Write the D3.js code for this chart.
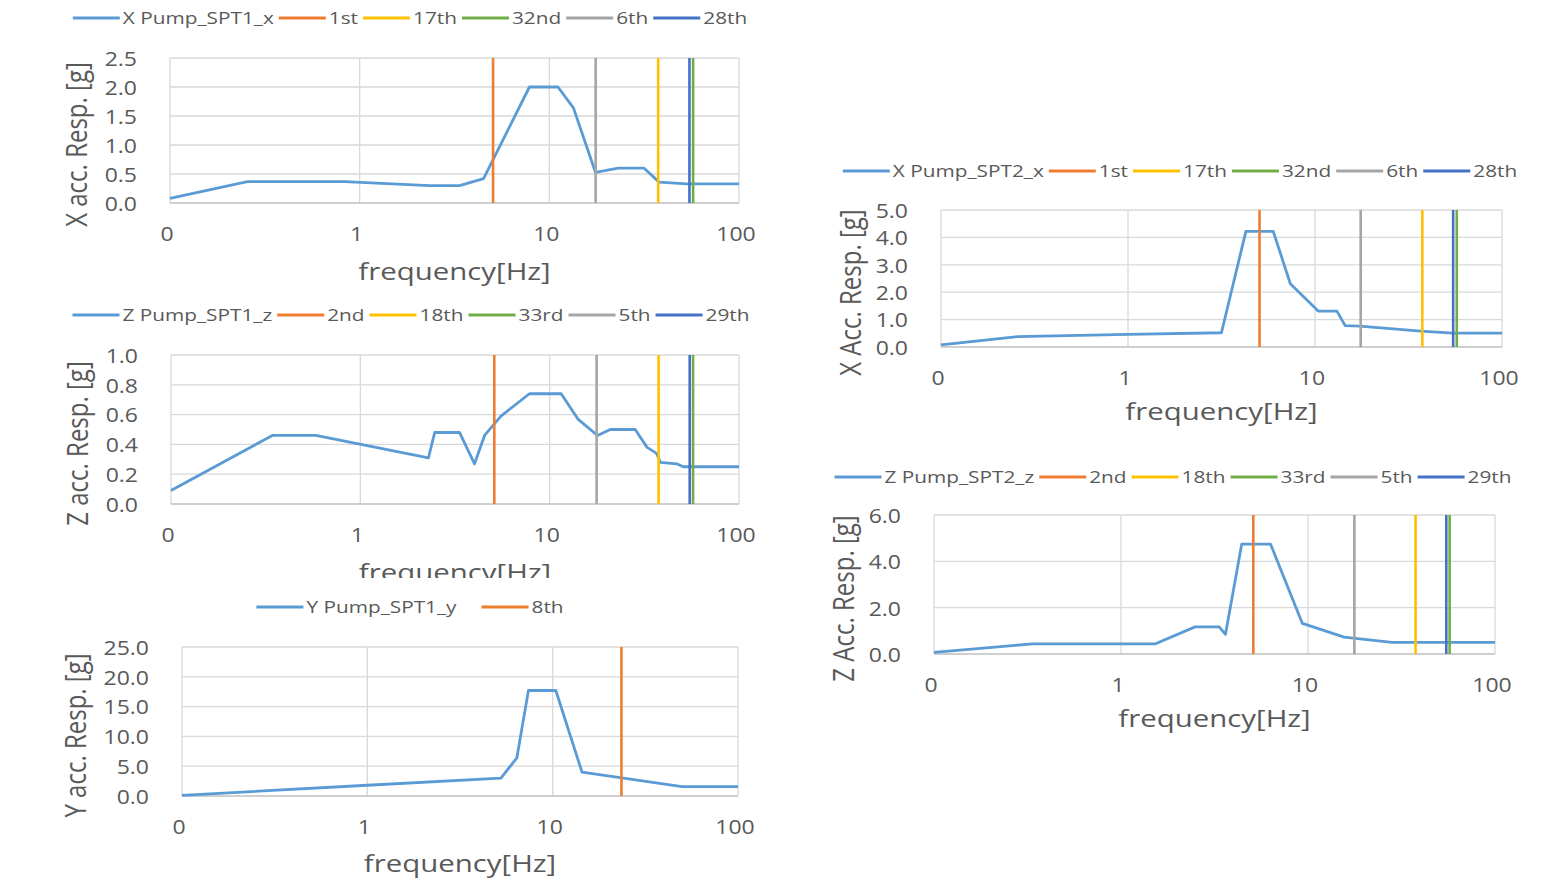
<!DOCTYPE html>
<html><head><meta charset="utf-8">
<script src="https://cdn.jsdelivr.net/npm/d3@7"></script>
<style>
body{margin:0;background:#fff}
svg{display:block}
text{font-family:"Open Sans",sans-serif;fill:#595959}
</style>
</head><body>
<svg id="c" width="1567" height="889"></svg>
<script>
// ---------------- data ----------------
const freqTicks = [0.1, 1, 10, 100];
const freqTickLabels = ["0", "1", "10", "100"];

const yTicks1 = [0, 0.5, 1.0, 1.5, 2.0, 2.5];
const yTicks2 = [0, 0.2, 0.4, 0.6, 0.8, 1.0];
const yTicks3 = [0, 5, 10, 15, 20, 25];
const yTicks4 = [0, 1, 2, 3, 4, 5];
const yTicks5 = [0, 2, 4, 6];

const spt1xFreq = [0.1, 0.256, 0.83, 2.34, 3.36, 4.5, 7.85, 11.1, 13.4, 17.5, 23.1, 31.6, 37.9, 52.9, 100];
const spt1xVal  = [0.08, 0.37, 0.37, 0.30, 0.30, 0.42, 2.0, 2.0, 1.64, 0.53, 0.60, 0.60, 0.36, 0.33, 0.33];

const spt1zFreq = [0.1, 0.343, 0.582, 2.29, 2.47, 3.34, 4.01, 4.53, 5.53, 7.82, 11.5, 14.1, 17.9, 20.9, 28.3, 32.7, 36.7, 38.4, 46.9, 50.7, 100];
const spt1zVal  = [0.09, 0.46, 0.46, 0.31, 0.48, 0.48, 0.27, 0.46, 0.59, 0.74, 0.74, 0.57, 0.46, 0.50, 0.50, 0.38, 0.34, 0.28, 0.27, 0.25, 0.25];

const spt1yFreq = [0.1, 1.0, 5.26, 6.41, 7.4, 10.4, 14.4, 49.9, 100];
const spt1yVal  = [0.1, 1.8, 3.0, 6.4, 17.7, 17.7, 4.0, 1.57, 1.57];

const spt2xFreq = [0.1, 0.257, 1.0, 3.16, 4.27, 5.98, 7.38, 10.4, 13.1, 14.5, 17.3, 36.8, 54.5, 100];
const spt2xVal  = [0.08, 0.38, 0.46, 0.52, 4.22, 4.22, 2.31, 1.31, 1.31, 0.78, 0.76, 0.58, 0.51, 0.51];

const spt2zFreq = [0.1, 0.336, 1.53, 2.49, 3.35, 3.62, 4.42, 6.31, 9.33, 15.6, 28.1, 100];
const spt2zVal  = [0.07, 0.44, 0.44, 1.17, 1.17, 0.85, 4.74, 4.74, 1.32, 0.73, 0.50, 0.50];

// mode frequencies (vertical lines), legend order
const xModeLabels = ["1st", "17th", "32nd", "6th", "28th"];
const xModeFreqs  = [5.05, 37.5, 57.3, 17.55, 54.8];
const zModeLabels = ["2nd", "18th", "33rd", "5th", "29th"];
const zModeFreqs  = [5.1, 37.6, 57.2, 17.7, 54.9];
const yModeLabels = ["8th"];
const yModeFreqs  = [23.5];
const modeColors  = ["#ED7D31", "#FFC000", "#70AD47", "#A5A5A5", "#4472C4"];
const seriesColor = "#5B9BD5";

// ---------------- drawing ----------------
const svg = d3.select("#c");
svg.append("rect").attr("width", 1567).attr("height", 889).attr("fill", "#fff");

const SX_TICK = 1.15, SX_TITLE = 1.2, SX_LEG = 1.3;

function hText(g, x, y, str, size, sx, anchor) {
  return g.append("text")
    .attr("transform", `translate(${x},${y}) scale(${sx},1)`)
    .attr("text-anchor", anchor || "middle")
    .attr("dominant-baseline", "central")
    .style("font-size", size + "px")
    .text(str);
}

function drawChart(c) {
  const g = svg.append("g");
  const x = d3.scaleLog().domain([0.1, 100]).range([c.left, c.right]);
  const y = d3.scaleLinear().domain([0, c.yTicks[c.yTicks.length - 1]]).range([c.bottom, c.top]);

  g.selectAll(".hg").data(c.yTicks.slice(1)).enter().append("line")
    .attr("x1", c.left).attr("x2", c.right)
    .attr("y1", d => y(d)).attr("y2", d => y(d))
    .attr("stroke", "#D9D9D9").attr("stroke-width", 1.3);
  g.selectAll(".vg").data(freqTicks).enter().append("line")
    .attr("x1", d => x(d)).attr("x2", d => x(d))
    .attr("y1", c.top).attr("y2", c.bottom)
    .attr("stroke", "#D9D9D9").attr("stroke-width", 1.3);
  g.append("line").attr("x1", c.left).attr("x2", c.right)
    .attr("y1", y(0)).attr("y2", y(0))
    .attr("stroke", "#BFBFBF").attr("stroke-width", 1.5);

  const pts = c.freq.map((f, i) => [f, c.val[i]]);
  g.append("path").datum(pts)
    .attr("fill", "none").attr("stroke", seriesColor).attr("stroke-width", 2.8)
    .attr("stroke-linejoin", "round")
    .attr("d", d3.line().x(d => x(d[0])).y(d => y(d[1])));

  c.modeFreqs.forEach((f, i) => {
    g.append("line")
      .attr("x1", x(f)).attr("x2", x(f))
      .attr("y1", c.top).attr("y2", c.bottom)
      .attr("stroke", modeColors[i]).attr("stroke-width", 2.6);
  });

  c.yTicks.forEach(t => {
    hText(g, c.left - 33, y(t), t.toFixed(1), 20, SX_TICK, "end");
  });
  freqTicks.forEach((t, i) => {
    hText(g, x(t) - 3, c.bottom + 30, freqTickLabels[i], 20, SX_TICK, "middle");
  });
  hText(g, (c.left + c.right) / 2, c.bottom + c.xTitleDy, "frequency[Hz]", 24.5, SX_TITLE, "middle");
  g.append("text")
    .attr("transform", `translate(${c.yTitleX},${(c.top + c.bottom) / 2 + 14}) scale(${SX_TITLE},1) rotate(-90)`)
    .attr("text-anchor", "middle").attr("dominant-baseline", "central")
    .style("font-size", "24px")
    .text(c.yTitle);

  const entries = [{ label: c.name, color: seriesColor }]
    .concat(c.modeLabels.map((l, i) => ({ label: l, color: modeColors[i] })));
  const lg = g.append("g");
  let cx = 0;
  entries.forEach((e, i) => {
    lg.append("line").attr("x1", cx).attr("x2", cx + 47)
      .attr("y1", c.legendY).attr("y2", c.legendY)
      .attr("stroke", e.color).attr("stroke-width", 2.8);
    cx += 50;
    const t = hText(lg, cx, c.legendY, e.label, 16, SX_LEG, "start");
    const w = t.node().getComputedTextLength() * SX_LEG;
    cx += w + (i === 0 ? c.legendGap0 : 5);
  });
  const total = cx - 5;
  lg.attr("transform", `translate(${c.legendCx - total / 2},0)`);
}

drawChart({
  left: 170, right: 739, top: 58, bottom: 203, yTicks: yTicks1,
  freq: spt1xFreq, val: spt1xVal, name: "X Pump_SPT1_x",
  modeLabels: xModeLabels, modeFreqs: xModeFreqs,
  yTitle: "X acc. Resp. [g]", yTitleX: 76, xTitleDy: 67,
  legendY: 18, legendCx: 410, legendGap0: 5
});
drawChart({
  left: 171, right: 739, top: 355, bottom: 504, yTicks: yTicks2,
  freq: spt1zFreq, val: spt1zVal, name: "Z Pump_SPT1_z",
  modeLabels: zModeLabels, modeFreqs: zModeFreqs,
  yTitle: "Z acc. Resp. [g]", yTitleX: 77, xTitleDy: 67,
  legendY: 315, legendCx: 411, legendGap0: 5
});
svg.append("rect").attr("x", 0).attr("y", 578).attr("width", 790).attr("height", 311).attr("fill", "#fff");
drawChart({
  left: 182, right: 738, top: 647, bottom: 796, yTicks: yTicks3,
  freq: spt1yFreq, val: spt1yVal, name: "Y Pump_SPT1_y",
  modeLabels: yModeLabels, modeFreqs: yModeFreqs,
  yTitle: "Y acc. Resp. [g]", yTitleX: 75, xTitleDy: 66,
  legendY: 607, legendCx: 410, legendGap0: 25
});
drawChart({
  left: 941, right: 1502, top: 210, bottom: 347, yTicks: yTicks4,
  freq: spt2xFreq, val: spt2xVal, name: "X Pump_SPT2_x",
  modeLabels: xModeLabels, modeFreqs: xModeFreqs,
  yTitle: "X Acc. Resp. [g]", yTitleX: 850, xTitleDy: 63,
  legendY: 171, legendCx: 1180, legendGap0: 5
});
drawChart({
  left: 934, right: 1495, top: 515, bottom: 654, yTicks: yTicks5,
  freq: spt2zFreq, val: spt2zVal, name: "Z Pump_SPT2_z",
  modeLabels: zModeLabels, modeFreqs: zModeFreqs,
  yTitle: "Z Acc. Resp. [g]", yTitleX: 843, xTitleDy: 63,
  legendY: 477, legendCx: 1173, legendGap0: 5
});
</script>
</body></html>
